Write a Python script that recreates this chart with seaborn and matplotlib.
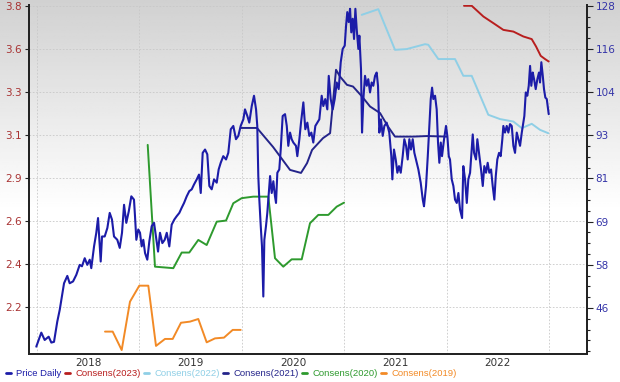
import numpy as np
import pandas as pd
import matplotlib
matplotlib.use("Agg")
import matplotlib.pyplot as plt
import seaborn as sns
from matplotlib.ticker import FixedLocator, FixedFormatter, AutoMinorLocator, NullFormatter
from matplotlib.lines import Line2D

# ---------------- data (decimal years) ----------------
price_t = [2017.993, 2018.042, 2018.075, 2018.114, 2018.140, 2018.166, 2018.198, 2018.222, 2018.264, 2018.296,
           2018.319, 2018.352, 2018.384, 2018.417, 2018.439, 2018.466, 2018.491, 2018.515, 2018.530, 2018.557,
           2018.579, 2018.596, 2018.622, 2018.635, 2018.661, 2018.687, 2018.710, 2018.732, 2018.752, 2018.784,
           2018.808, 2018.830, 2018.850, 2018.872, 2018.896, 2018.921, 2018.947, 2018.957, 2018.970, 2018.989,
           2019.006, 2019.022, 2019.038, 2019.055, 2019.077, 2019.097, 2019.120, 2019.143, 2019.162, 2019.182,
           2019.201, 2019.224, 2019.247, 2019.267, 2019.292, 2019.315, 2019.341, 2019.364, 2019.390, 2019.413,
           2019.436, 2019.462, 2019.487, 2019.511, 2019.533, 2019.560, 2019.582, 2019.599, 2019.618, 2019.641,
           2019.663, 2019.683, 2019.706, 2019.729, 2019.755, 2019.774, 2019.794, 2019.819, 2019.846, 2019.868,
           2019.892, 2019.917, 2019.943, 2019.966, 2019.989, 2020.015, 2020.031, 2020.054, 2020.073, 2020.097,
           2020.119, 2020.139, 2020.151, 2020.161, 2020.171, 2020.185, 2020.197, 2020.210, 2020.220, 2020.236,
           2020.249, 2020.259, 2020.276, 2020.292, 2020.308, 2020.324, 2020.334, 2020.347, 2020.366, 2020.380,
           2020.399, 2020.422, 2020.439, 2020.454, 2020.471, 2020.487, 2020.503, 2020.529, 2020.542, 2020.562,
           2020.578, 2020.601, 2020.620, 2020.640, 2020.659, 2020.679, 2020.698, 2020.718, 2020.737, 2020.757,
           2020.780, 2020.796, 2020.815, 2020.835, 2020.849, 2020.868, 2020.888, 2020.907, 2020.927, 2020.946,
           2020.966, 2020.985, 2021.005, 2021.018, 2021.030, 2021.044, 2021.057, 2021.069, 2021.083, 2021.096,
           2021.109, 2021.122, 2021.138, 2021.148, 2021.164, 2021.174, 2021.187, 2021.203, 2021.220, 2021.235,
           2021.252, 2021.268, 2021.284, 2021.301, 2021.317, 2021.330, 2021.343, 2021.359, 2021.376, 2021.392,
           2021.415, 2021.440, 2021.460, 2021.470, 2021.486, 2021.503, 2021.519, 2021.535, 2021.552, 2021.571,
           2021.587, 2021.604, 2021.620, 2021.636, 2021.652, 2021.669, 2021.685, 2021.701, 2021.724, 2021.747,
           2021.767, 2021.779, 2021.799, 2021.816, 2021.831, 2021.845, 2021.858, 2021.870, 2021.887, 2021.903,
           2021.916, 2021.929, 2021.943, 2021.955, 2021.975, 2021.994, 2022.007, 2022.021, 2022.033, 2022.050,
           2022.066, 2022.082, 2022.099, 2022.115, 2022.131, 2022.151, 2022.163, 2022.180, 2022.197, 2022.212,
           2022.229, 2022.245, 2022.255, 2022.268, 2022.287, 2022.300, 2022.320, 2022.336, 2022.353, 2022.368,
           2022.385, 2022.401, 2022.417, 2022.434, 2022.450, 2022.466, 2022.480, 2022.495, 2022.512, 2022.528,
           2022.544, 2022.554, 2022.570, 2022.587, 2022.603, 2022.619, 2022.636, 2022.652, 2022.668, 2022.685,
           2022.701, 2022.717, 2022.734, 2022.749, 2022.759, 2022.773, 2022.788, 2022.802, 2022.815, 2022.827,
           2022.841, 2022.854, 2022.870, 2022.886, 2022.902, 2022.912, 2022.925, 2022.939, 2022.951, 2022.964,
           2022.978, 2022.997]
price_v = [35.5, 39.3, 37.3, 38.2, 36.6, 36.8, 42.3, 45.5, 52.7, 54.7,
           52.7, 53.2, 55.0, 57.7, 57.3, 59.5, 57.7, 59.1, 56.8, 62.7,
           66.4, 70.4, 58.6, 65.4, 65.4, 67.7, 71.8, 70.0, 65.4, 64.5,
           62.3, 66.4, 74.0, 69.1, 72.2, 76.3, 75.4, 70.9, 64.5, 67.3,
           66.4, 62.7, 64.5, 60.9, 59.1, 64.1, 68.2, 69.1, 65.4, 61.3,
           66.4, 63.6, 64.5, 66.4, 62.7, 68.6, 70.0, 70.9, 71.8, 73.2,
           74.5, 76.3, 77.7, 78.2, 79.5, 80.9, 82.2, 77.2, 88.1, 89.0,
           87.7, 79.1, 78.2, 80.9, 80.0, 83.6, 85.4, 87.2, 86.3, 88.1,
           94.5, 95.4, 91.8, 92.7, 95.4, 97.2, 99.9, 98.1, 96.3, 100.8,
           103.6, 99.9, 95.4, 81.8, 75.4, 68.2, 62.7, 49.1, 64.5, 68.2,
           71.8, 75.4, 81.8, 77.2, 80.4, 76.3, 74.5, 82.7, 83.6, 89.0,
           98.1, 98.6, 95.4, 90.0, 93.6, 91.8, 90.9, 90.0, 87.2, 91.8,
           96.3, 101.8, 94.5, 96.3, 92.7, 93.6, 90.9, 95.4, 96.3, 97.2,
           103.6, 100.8, 102.7, 99.9, 109.0, 102.7, 99.9, 102.7, 107.2, 105.4,
           112.7, 116.3, 117.2, 122.6, 126.3, 123.6, 127.2, 120.8, 124.5, 119.0,
           127.2, 121.7, 116.3, 119.9, 110.8, 93.6, 102.7, 109.0, 106.3, 108.1,
           104.5, 107.2, 106.3, 109.0, 109.9, 106.3, 93.6, 97.2, 92.7, 95.4,
           96.3, 93.6, 87.2, 80.9, 89.0, 86.3, 82.7, 84.5, 82.7, 87.2,
           91.8, 90.0, 86.3, 91.8, 89.0, 91.8, 88.1, 86.3, 83.6, 80.0,
           75.4, 73.6, 79.1, 87.2, 95.4, 102.7, 105.8, 102.7, 103.6, 99.9,
           90.9, 85.4, 90.9, 87.2, 91.8, 95.4, 92.7, 87.2, 86.3, 80.9,
           79.1, 75.4, 74.5, 77.2, 72.7, 70.4, 84.5, 80.9, 74.5, 80.9,
           82.7, 89.0, 93.1, 88.1, 86.3, 91.8, 87.2, 83.6, 79.1, 84.5,
           82.7, 85.4, 82.7, 83.6, 79.1, 75.4, 81.8, 86.3, 88.1, 87.2,
           91.8, 95.4, 93.6, 95.4, 93.6, 95.9, 95.4, 90.0, 88.1, 93.6,
           91.8, 90.0, 93.6, 96.3, 98.1, 104.5, 103.6, 106.3, 111.7, 106.3,
           109.9, 108.1, 105.4, 108.1, 109.9, 107.2, 112.7, 109.0, 105.4, 103.1,
           102.7, 98.6]

c2023_t = [2022.170, 2022.245, 2022.359, 2022.456, 2022.554, 2022.652, 2022.749, 2022.831, 2022.873, 2022.919, 2022.961, 2022.997]
c2023_v = [3.800, 3.800, 3.743, 3.708, 3.672, 3.663, 3.637, 3.623, 3.584, 3.534, 3.517, 3.504]

c2022_t = [2021.171, 2021.333, 2021.496, 2021.610, 2021.789, 2021.821, 2021.919, 2022.082, 2022.163, 2022.245,
           2022.407, 2022.522, 2022.652, 2022.734, 2022.831, 2022.912, 2022.993]
c2022_v = [3.752, 3.782, 3.566, 3.570, 3.596, 3.593, 3.517, 3.517, 3.428, 3.428,
           3.221, 3.198, 3.185, 3.150, 3.173, 3.141, 3.123]

c2021_t = [2019.992, 2020.148, 2020.305, 2020.471, 2020.578, 2020.637, 2020.686, 2020.793, 2020.862, 2020.920,
           2020.959, 2021.027, 2021.086, 2021.174, 2021.252, 2021.350, 2021.428, 2021.496, 2021.672, 2021.809, 2022.004]
c2021_v = [3.151, 3.151, 3.050, 2.928, 2.912, 2.964, 3.034, 3.097, 3.123, 3.460,
           3.424, 3.380, 3.371, 3.318, 3.265, 3.230, 3.158, 3.105, 3.105, 3.108, 3.105]

c2020_t = [2019.081, 2019.152, 2019.331, 2019.413, 2019.487, 2019.575, 2019.657, 2019.755, 2019.846, 2019.917,
           2019.999, 2020.112, 2020.259, 2020.324, 2020.405, 2020.487, 2020.585, 2020.666, 2020.747, 2020.845,
           2020.927, 2020.998]
c2020_v = [3.061, 2.414, 2.406, 2.489, 2.489, 2.556, 2.529, 2.653, 2.659, 2.751,
           2.778, 2.786, 2.786, 2.459, 2.414, 2.453, 2.453, 2.645, 2.689, 2.689,
           2.733, 2.754]

c2019_t = [2018.664, 2018.739, 2018.827, 2018.908, 2018.999, 2019.087, 2019.162, 2019.250, 2019.325, 2019.406,
           2019.494, 2019.575, 2019.657, 2019.738, 2019.826, 2019.911, 2019.989]
c2019_v = [2.069, 2.069, 1.971, 2.228, 2.313, 2.313, 1.993, 2.030, 2.030, 2.116,
           2.122, 2.136, 2.012, 2.033, 2.037, 2.078, 2.078]

years = [2018, 2019, 2020, 2021, 2022]
left_tick_labels = ["2.2", "2.4", "2.6", "2.9", "3.1", "3.3", "3.6", "3.8"]
right_tick_labels = ["46", "58", "69", "81", "93", "104", "116", "128"]

# ---------------- style ----------------
sns.set_style("white")
plt.rcParams["font.family"] = ["DejaVu Sans"]

col_price = "#1c1ca8"
col_2023 = "#b81e1e"
col_2022 = "#8fcfe6"
col_2021 = "#24248a"
col_2020 = "#2e9a2e"
col_2019 = "#f28a26"

fig = plt.figure(figsize=(6.2, 3.82), dpi=100)

# gradient background
bg = fig.add_axes([0, 0, 1, 1], zorder=-10)
grad = np.ones((200, 2))
top_gray = 0.82
for i in range(200):
    f = i / 199.0
    grad[i, :] = min(1.0, top_gray + (1 - top_gray) * f / 0.55)
bg.imshow(grad, aspect="auto", cmap="gray", vmin=0, vmax=1, extent=[0, 1, 0, 1], origin="upper")
bg.axis("off")

ax = fig.add_axes([0.0468, 0.0733, 0.9, 0.914])
ax.set_facecolor("none")
ax2 = ax.twinx()

lw = 1.4
sns.lineplot(x=c2019_t, y=c2019_v, ax=ax, color=col_2019, lw=lw, estimator=None, sort=False)
sns.lineplot(x=c2020_t, y=c2020_v, ax=ax, color=col_2020, lw=lw, estimator=None, sort=False)
sns.lineplot(x=c2021_t, y=c2021_v, ax=ax, color=col_2021, lw=lw, estimator=None, sort=False)
sns.lineplot(x=c2022_t, y=c2022_v, ax=ax, color=col_2022, lw=lw, estimator=None, sort=False)
sns.lineplot(x=c2023_t, y=c2023_v, ax=ax, color=col_2023, lw=lw, estimator=None, sort=False)
sns.lineplot(x=price_t, y=price_v, ax=ax2, color=col_price, lw=1.5, estimator=None, sort=False)

# axes limits
xmin, xmax = 2017.922, 2023.371
ax.set_xlim(xmin, xmax)
ax.set_ylim(1.950, 3.805)
ax2.set_ylim(33.5, 128.27)

left_pos = np.linspace(2.2, 3.8, 8)
right_pos = np.linspace(46, 128, 8)
ax.yaxis.set_major_locator(FixedLocator(left_pos))
ax.yaxis.set_major_formatter(FixedFormatter(left_tick_labels))
ax2.yaxis.set_major_locator(FixedLocator(right_pos))
ax2.yaxis.set_major_formatter(FixedFormatter(right_tick_labels))
ax2.yaxis.set_minor_locator(AutoMinorLocator(4))

ax.xaxis.set_major_locator(FixedLocator([y + 0.5 for y in years]))
ax.xaxis.set_major_formatter(FixedFormatter([str(y) for y in years]))
ax.xaxis.set_minor_locator(FixedLocator(years + [2023]))
ax.xaxis.set_minor_formatter(NullFormatter())

ax.tick_params(axis="x", which="both", length=0, labelsize=7.5, labelcolor="#333333", pad=3)
ax.tick_params(axis="y", which="major", length=3, width=0.8, direction="out", labelsize=7.5,
               labelcolor="#a83232", color="#222222", pad=2)
ax2.tick_params(axis="y", which="major", length=4, width=0.8, direction="out", labelsize=7.5,
                labelcolor="#3434a8", color="#222222", pad=2)
ax2.tick_params(axis="y", which="minor", length=2, width=0.8, direction="out", color="#222222")

ax.grid(False)
ax2.grid(False)
ax.grid(True, axis="y", which="major", linestyle=(0, (2, 2)), color="#c8c8c8", lw=0.6)
ax.grid(True, axis="x", which="minor", linestyle=(0, (2, 2)), color="#c8c8c8", lw=0.6)

for a in (ax, ax2):
    a.spines["top"].set_visible(False)
    a.spines["left"].set_color("#222222")
    a.spines["right"].set_color("#222222")
    a.spines["bottom"].set_color("#222222")
    a.spines["left"].set_linewidth(1.3)
    a.spines["right"].set_linewidth(1.3)
    a.spines["bottom"].set_linewidth(1.3)
    a.set_xlabel("")
    a.set_ylabel("")

handles = [Line2D([], [], color=c, lw=2) for c in [col_price, col_2023, col_2022, col_2021, col_2020, col_2019]]
labels = ["Price Daily", "Consens(2023)", "Consens(2022)", "Consens(2021)", "Consens(2020)", "Consens(2019)"]
leg = fig.legend(handles, labels, loc="lower left", bbox_to_anchor=(-0.004, -0.012), ncol=6, frameon=False,
                 prop={"family": "Liberation Sans", "size": 6.8}, handlelength=0.5, handletextpad=0.6,
                 columnspacing=0.35, labelcolor="linecolor")

fig.savefig("out.png", dpi=100)
